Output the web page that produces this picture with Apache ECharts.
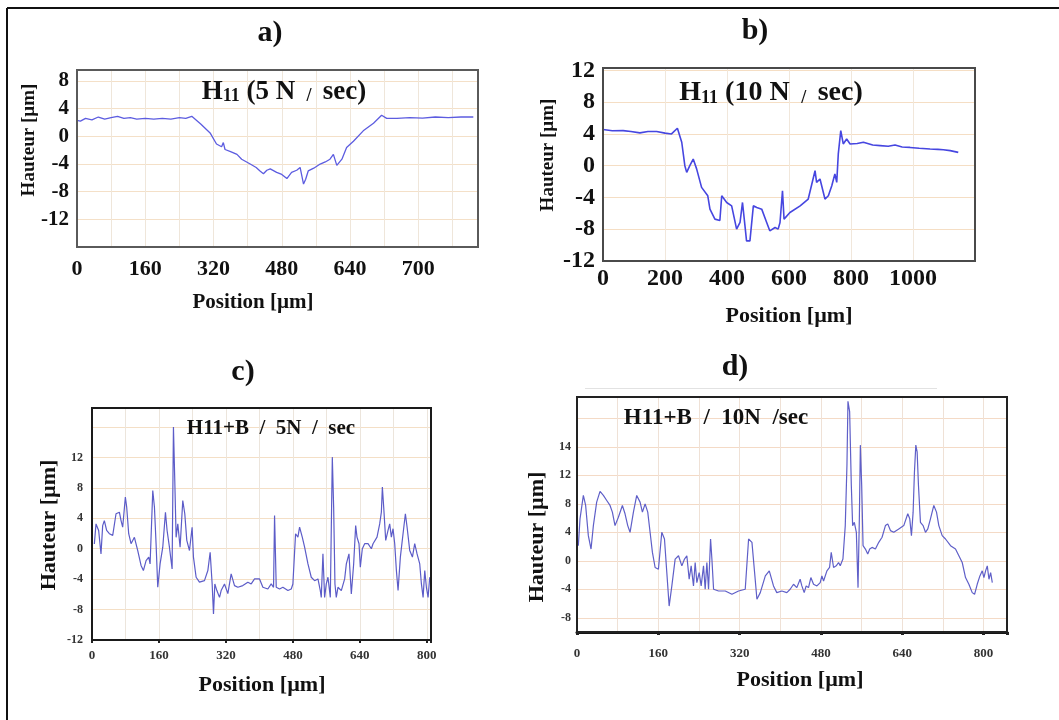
<!DOCTYPE html>
<html>
<head>
<meta charset="utf-8">
<script src="https://cdn.jsdelivr.net/npm/echarts@6/dist/echarts.min.js"></script>
<style>
html,body{margin:0;padding:0;background:#fff;}
#chart{width:1059px;height:720px;}
</style>
</head>
<body>
<div id="chart"></div>
<script>
// ---------- DATA ----------
// Panel a) H11 (5 N / sec)
const aX = [0,8,20,35,50,65,80,95,110,125,140,160,180,200,220,240,255,269,290,312,327,339,343,347,360,375,386,406,420,429,437,445,453,468,480,492,503,515,523,531,536,542,555,570,582,593,601,609,621,632,648,671,695,714,726,750,780,810,840,870,900,929];
const aY = [2.3,2.2,2.6,2.4,2.8,2.5,2.7,2.9,2.6,2.7,2.5,2.6,2.5,2.6,2.5,2.7,2.6,2.9,1.8,0.5,-1.1,-1.5,-0.9,-1.9,-2.2,-2.6,-3.3,-4.0,-4.5,-5.0,-5.4,-4.9,-4.7,-5.2,-5.5,-6.1,-5.2,-4.9,-4.5,-6.9,-6.2,-5.0,-4.6,-4.0,-3.7,-3.3,-2.6,-4.2,-3.3,-1.6,-0.7,0.8,1.9,3.05,2.6,2.6,2.7,2.65,2.8,2.7,2.8,2.8];
const aXTicks = [0,160,320,480,640,800];
const aXLabels = ['0','160','320','480','640','700'];
const aYTicks = [-12,-8,-4,0,4,8];

// Panel b) H11 (10 N / sec)
const bX = [0,30,65,90,119,145,173,200,221,240,254,264,270,280,291,302,318,338,345,361,377,383,399,415,431,442,450,458,463,474,485,496,512,528,538,555,565,571,579,584,603,636,662,684,689,700,716,727,738,748,754,759,767,775,786,797,820,840,870,894,920,942,965,990,1020,1055,1080,1098,1120,1146];
const bY = [4.55,4.4,4.42,4.3,4.13,4.3,4.3,4.1,4.0,4.72,2.95,0,-0.84,0,0.84,-0.4,-2.73,-3.79,-5.47,-6.73,-6.9,-3.79,-4.63,-5.05,-7.99,-7.15,-4.63,-7.57,-9.47,-9.47,-5.05,-5.26,-5.47,-7.15,-8.2,-7.78,-7.99,-7.15,-3.15,-6.73,-5.89,-5.05,-4.2,-0.63,-2.1,-1.68,-4.2,-3.79,-2.52,-1.05,-2.1,1.48,4.42,2.74,3.37,2.74,2.8,2.95,2.6,2.53,2.45,2.6,2.35,2.3,2.2,2.1,2.05,2.0,1.9,1.68];
const bXTicks = [0,200,400,600,800,1000];
const bYTicks = [-12,-8,-4,0,4,8,12];

// Panel c) H11+B / 5N / sec
const cX = [5.6,9.6,15.9,21.5,25.5,29.5,35,41.5,49.5,57.4,65.4,69.4,73.3,79.7,82.9,87.7,93.3,101.3,109.3,117.2,122.8,129.2,135.6,138.8,145.2,149.2,153.1,157.1,162.7,169.1,175.5,179.4,185,191.4,194.6,197.8,201,205,210.5,216.9,221.7,226.5,232.9,239.2,242.4,248.8,256.8,268.7,276.8,282.3,287.1,290.3,293.5,298.3,304.7,308.6,316.6,324.6,332.5,340.5,348.5,360.4,372.4,380.4,388.4,
  400.3,408.3,420.2,428.2,433.8,436.2,440.2,448.2,456.1,468.1,476.1,480,486.4,492,496,502.4,508,516,523.9,531.9,539.9,545.5,547.8,551.8,555.8,559.8,563.8,569.4,574.2,577.4,580.5,583.7,587.7,595.7,603.7,607.7,614,619.6,625.2,630,633.2,638,641.1,645.9,651.5,659.5,667.5,671.5,681,687.4,691.4,693.8,697,701.8,707.3,711.3,715.3,719.3,723.3,727.3,731.3,736.8,743.2,748.8,752.8,759.2,765.6,771.1,776.7,783.1,787.1,791.1,795.1,799,803,807,811];
const cY = [0.63,3.26,2.39,-0.68,3.04,3.7,2.4,1.97,1.75,4.6,4.8,3.7,2.83,6.78,5.46,1.97,0.66,1.5,-0.24,-2.2,-2.87,-1.56,-1.1,-2.0,7.66,5.46,0.66,-5.07,-2.0,0.2,4.8,2.4,0.2,-2.65,15.99,8.98,1.5,3.26,0.2,6.34,4.6,1.1,-0.24,2.83,-1.1,-3.75,-4.4,-4.2,-2.87,-0.46,-4.63,-8.58,-4.63,-5.5,-6.4,-5.5,-4.63,-5.9,-3.3,-4.85,-5.07,-4.85,-4.4,-4.63,-3.97,
  -3.97,-5.07,-5.29,-4.63,-5.07,4.36,-5.07,-5.29,-5.07,-5.5,-5.29,-4.63,1.97,1.53,2.85,1.53,0.2,-2.0,-3.75,-4.2,-3.97,-5.5,-6.4,-0.68,-6.4,-4.63,-3.75,-6.4,12.04,5.46,-4.63,-6.4,-5.07,-5.5,-3.97,-2.0,-0.68,-5.95,-2.0,3.04,1.53,0.66,-2.43,0,0.66,0.66,0,0.66,1.53,3.26,4.8,8.1,5.46,1.1,2.4,3.26,1.53,2.63,0.66,-2.87,-5.5,-1.1,1.97,4.6,2.85,-0.24,-1.1,0.66,-0.68,-2.0,-4.63,-6.4,-2.87,-5.07,-6.4,-3.75,-4.63];
const cXTicks = [0,160,320,480,640,800];
const cYTicks = [-12,-8,-4,0,4,8,12];

// Panel d) H11+B / 10N /sec
const dX = [2.6,5.9,12.5,17,22.3,27.6,32.2,38.7,45.3,51.9,58.5,65,69.6,74.8,81.4,89.3,94.5,99.8,104.4,111,117.5,124.1,128.7,134,139.2,143.8,148.4,153.7,160.2,166.8,172.1,176.7,181.3,186.6,193.1,199.7,206.3,211.5,216.1,220.7,224.6,229.2,232.5,235.8,240.4,244.3,248.9,252.2,255.5,258.8,262.8,265.4,268.7,278.5,291.7,304.8,317.9,331,337.6,344.2,349.4,354,360.6,370.5,378.3,
  386.6,393.1,403,412.8,419.4,426,432.5,439,442.4,447,450.9,455.5,460.1,465.4,472,478.5,481.8,485.1,491.7,496.9,500.2,504.8,510,514.6,517.9,523.2,527.8,531.1,533.1,536.4,539.7,542.3,545.6,549.6,552.9,555.5,557.5,560.1,562.8,567.4,572,575.9,580.5,587.1,593.7,600.2,606.8,611.4,616.7,623.2,633.1,642.9,650.8,654.7,658,661.3,663.9,666.6,669.2,671.8,675.7,681,685.6,690.2,695.4,702,707.3,711.9,718.5,725,734.9,744.7,751.3,757.9,764.4,771,777.6,782.2,787.4,792.7,797.3,800.6,803.9,807.2,810.5,813.8,817.1];
const dY = [2.12,5.89,9.18,7.77,3.53,1.65,4.94,8.24,9.75,9.18,8.47,7.77,6.83,4.94,6.12,7.77,6.6,4.94,4.0,6.83,9.18,8.24,6.83,8.0,6.83,4.0,1.18,-0.94,-1.18,4.0,3.06,-1.65,-6.36,-3.53,0.24,0.71,-0.71,0.24,0.71,-2.59,-0.71,-3.53,-0.24,-3.06,-1.65,-3.53,-0.71,-4.0,-0.24,-4.0,3.06,0.24,-4.0,-4.24,-4.24,-4.71,-4.24,-4.0,3.06,2.59,-1.65,-5.41,-4.47,-2.12,-1.41,
  -3.53,-4.47,-4.24,-4.47,-4.0,-3.3,-3.77,-2.59,-3.53,-4.47,-3.53,-3.77,-2.35,-3.3,-3.53,-3.06,-2.12,-2.83,-1.41,-0.94,1.18,-0.94,-0.71,-0.24,-0.71,0.24,4.94,13.42,22.4,20.95,10.6,4.94,5.41,4.0,-3.77,5.89,16.24,10.6,2.12,1.65,0.94,1.65,1.88,1.65,2.59,3.3,4.94,5.18,4.24,4.0,4.47,4.94,6.6,5.89,3.53,6.83,12.47,16.24,15.3,10.6,5.41,4.94,4.0,4.47,5.89,7.77,6.83,4.94,3.53,3.06,2.12,1.65,0.71,-0.24,-2.35,-3.3,-4.47,-4.71,-3.3,-2.12,-1.41,-2.35,-1.41,-0.71,-2.59,-1.65,-3.06];
const dXTicks = [0,160,320,480,640,800];
const dYTicks = [-8,-4,0,4,8,12,16];
const dYLabels = ['-8','-4','0','4','8','12','14'];

// ---------- HELPERS ----------
const zip = (xs, ys) => xs.map((x, i) => [x, ys[i]]);
const SERIF = '"Liberation Serif","Times New Roman",serif';
function labelFrom(ticks, labels) {
  return function (v) {
    const i = ticks.findIndex(t => Math.abs(t - v) < 1e-6);
    if (i < 0) return '';
    return labels ? labels[i] : String(ticks[i]);
  };
}
function split(color) { return { show: true, lineStyle: { color: color, width: 1 } }; }
function txt(t, x, y, size) {
  return { type: 'text', x: x, y: y, z: 100,
    style: { text: t, font: 'bold ' + size + 'px ' + SERIF, fill: '#111',
      align: 'center', verticalAlign: 'middle', textAlign: 'center', textVerticalAlign: 'middle' } };
}
function rot(t, x, y, size) {
  const o = txt(t, x, y, size);
  o.rotation = Math.PI / 2;
  return o;
}
function rich(t, x, y, big, small) {
  return { type: 'text', x: x, y: y, z: 100,
    style: { text: t, fill: '#111', align: 'center', verticalAlign: 'middle', textAlign: 'center', textVerticalAlign: 'middle',
      rich: {
        b: { fontSize: big, fontWeight: 'bold', fontFamily: SERIF, fill: '#111', verticalAlign: 'bottom' },
        s: { fontSize: small, fontWeight: 'bold', fontFamily: SERIF, fill: '#111', verticalAlign: 'bottom' }
      } } };
}
function frame(g, color, w) {
  return { type: 'rect', z: 90, shape: { x: g.left, y: g.top, width: g.width, height: g.height },
    style: { fill: null, stroke: color, lineWidth: w } };
}

const G = [
  { left: 77, top: 70, width: 401, height: 177 },
  { left: 603, top: 68, width: 372, height: 193 },
  { left: 92, top: 408, width: 339, height: 232 },
  { left: 577, top: 397, width: 430, height: 235 }
];

const chart = echarts.init(document.getElementById('chart'), null, { renderer: 'canvas' });

const option = {
  animation: false,
  backgroundColor: '#ffffff',
  grid: G.map(g => Object.assign({ show: false, containLabel: false }, g)),
  xAxis: [
    { type: 'value', gridIndex: 0, min: 0, max: 940, interval: 80,
      axisLine: { show: false }, axisTick: { show: false }, splitLine: split('#efe6da'),
      axisLabel: { margin: 11, formatter: labelFrom(aXTicks, aXLabels), fontFamily: SERIF, fontWeight: 'bold', fontSize: 22, color: '#111', showMaxLabel: false } },
    { type: 'value', gridIndex: 1, min: 0, max: 1200, interval: 200,
      axisLine: { show: false }, axisTick: { show: false }, splitLine: split('#f1e7db'),
      axisLabel: { margin: 6, formatter: labelFrom(bXTicks), fontFamily: SERIF, fontWeight: 'bold', fontSize: 24, color: '#111', showMaxLabel: false } },
    { type: 'value', gridIndex: 2, min: 0, max: 810, interval: 80,
      axisLine: { show: false }, axisTick: { show: false }, splitLine: split('#ece5dc'),
      axisLabel: { margin: 9, formatter: labelFrom(cXTicks), fontFamily: SERIF, fontWeight: 'bold', fontSize: 13, color: '#333', showMaxLabel: false } },
    { type: 'value', gridIndex: 3, min: 0, max: 846, interval: 80,
      axisLine: { show: true, onZero: false, lineStyle: { color: '#151515', width: 3 } }, axisTick: { show: false }, splitLine: split('#efe1d6'),
      axisLabel: { margin: 15, formatter: labelFrom(dXTicks), fontFamily: SERIF, fontWeight: 'bold', fontSize: 13, color: '#333', showMaxLabel: false } },
    // tick-only axes for c and d (marks every 160 µm under the axis)
    { type: 'value', gridIndex: 2, position: 'bottom', min: 0, max: 810, interval: 160, axisLine: { show: false, onZero: false },
      axisTick: { show: true, length: 3, lineStyle: { color: '#222', width: 2 } }, axisLabel: { show: false }, splitLine: { show: false } },
    { type: 'value', gridIndex: 3, position: 'bottom', min: 0, max: 846, interval: 160, axisLine: { show: false, onZero: false },
      axisTick: { show: true, length: 3, lineStyle: { color: '#222', width: 3 } }, axisLabel: { show: false }, splitLine: { show: false } }
  ],
  yAxis: [
    { type: 'value', gridIndex: 0, min: -16, max: 9.6, interval: 4,
      axisLine: { show: false }, axisTick: { show: false }, splitLine: split('#f4e0c8'),
      axisLabel: { margin: 8, formatter: labelFrom(aYTicks), fontFamily: SERIF, fontWeight: 'bold', fontSize: 21, color: '#111' } },
    { type: 'value', gridIndex: 1, min: -12, max: 12.3, interval: 4,
      axisLine: { show: false }, axisTick: { show: false }, splitLine: split('#f5dec4'),
      axisLabel: { margin: 8, formatter: labelFrom(bYTicks), fontFamily: SERIF, fontWeight: 'bold', fontSize: 24, color: '#111' } },
    { type: 'value', gridIndex: 2, min: -12, max: 18.5, interval: 4,
      axisLine: { show: false }, axisTick: { show: false }, splitLine: split('#f4dfc6'),
      axisLabel: { margin: 9, formatter: labelFrom(cYTicks), fontFamily: SERIF, fontWeight: 'bold', fontSize: 12, color: '#333' } },
    { type: 'value', gridIndex: 3, min: -10, max: 23, minInterval: 4, maxInterval: 4,
      axisLine: { show: false }, axisTick: { show: false }, splitLine: split('#f4dac6'),
      axisLabel: { margin: 6, formatter: labelFrom(dYTicks, dYLabels), fontFamily: SERIF, fontWeight: 'bold', fontSize: 12, color: '#333', showMinLabel: false, showMaxLabel: false } }
  ],
  series: [
    { type: 'line', xAxisIndex: 0, yAxisIndex: 0, data: zip(aX, aY), showSymbol: false, symbol: 'none',
      lineStyle: { color: '#5c5ce0', width: 1.3 }, z: 5 },
    { type: 'line', xAxisIndex: 1, yAxisIndex: 1, data: zip(bX, bY), showSymbol: false, symbol: 'none',
      lineStyle: { color: '#4646e0', width: 1.6 }, z: 5 },
    { type: 'line', xAxisIndex: 2, yAxisIndex: 2, data: zip(cX, cY), showSymbol: false, symbol: 'none',
      lineStyle: { color: '#5c5cc8', width: 1.2 }, z: 5 },
    { type: 'line', xAxisIndex: 3, yAxisIndex: 3, data: zip(dX, dY), showSymbol: false, symbol: 'none',
      lineStyle: { color: '#5f5fc8', width: 1.2 }, z: 5 }
  ],
  graphic: [
    // outer frame (left and top edges visible)
    { type: 'line', shape: { x1: 7, y1: 8, x2: 7, y2: 720 }, style: { stroke: '#111', lineWidth: 2 } },
    { type: 'line', shape: { x1: 7, y1: 8, x2: 1059, y2: 8 }, style: { stroke: '#111', lineWidth: 2 } },
    // faint line above panel d
    { type: 'line', shape: { x1: 585, y1: 388.5, x2: 937, y2: 388.5 }, style: { stroke: '#e2e2e2', lineWidth: 1 } },
    // plot frames
    frame(G[0], '#5a5a5a', 2), frame(G[1], '#4a4a4a', 2), frame(G[2], '#1a1a1a', 2), frame(G[3], '#222', 2),
    // panel letters
    txt('a)', 270, 33, 30), txt('b)', 755, 31, 30), txt('c)', 243, 372, 30), txt('d)', 735, 367, 30),
    // axis names
    rot('Hauteur [µm]', 29, 140, 19), rot('Hauteur [µm]', 548, 155, 19), rot('Hauteur [µm]', 49, 525, 22), rot('Hauteur [µm]', 537, 537, 22),
    txt('Position [µm]', 253, 303, 21), txt('Position [µm]', 789, 316, 22), txt('Position [µm]', 262, 685, 22), txt('Position [µm]', 800, 680, 22),
    // inner titles
    rich('{b|H}{s|11}{b| (5 N }{s| / }{b| sec)}', 284, 92, 27, 18),
    rich('{b|H}{s|11}{b| (10 N }{s| / }{b| sec)}', 771, 93, 28, 18),
    txt('H11+B  /  5N  /  sec', 271, 429, 21),
    txt('H11+B  /  10N  /sec', 716, 418, 23)
  ]
};

chart.setOption(option);
</script>
</body>
</html>
